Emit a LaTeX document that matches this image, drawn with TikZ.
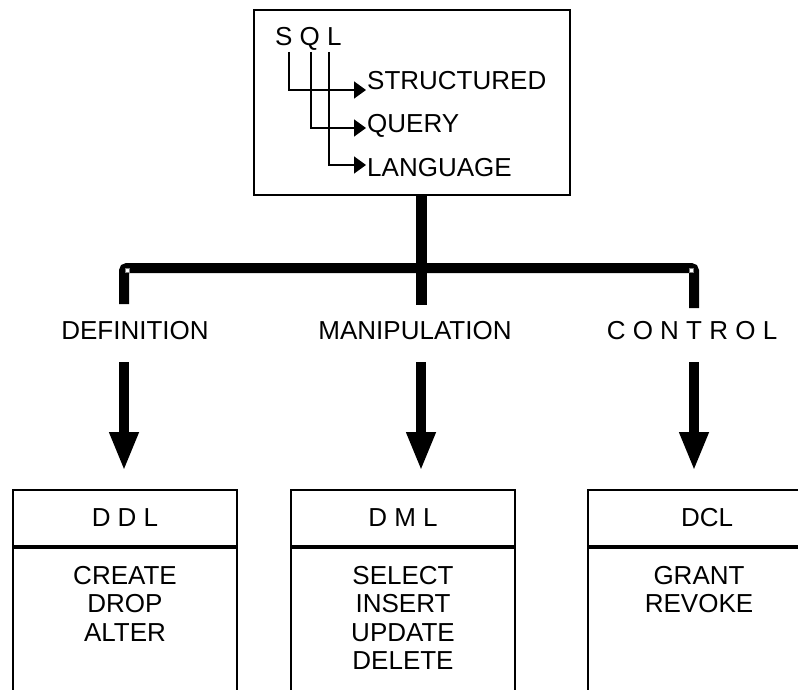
\documentclass[tikz,border=0pt]{standalone}
\usepackage{fontspec}
\setmainfont{Liberation Sans}
\usetikzlibrary{arrows.meta}
\begin{document}
\begin{tikzpicture}[x=1pt,y=-1pt,
  every node/.style={font=\fontsize{26}{28.5}\selectfont, inner sep=0pt},
  frame/.style={draw, line width=2pt},
  thinarrow/.style={line width=1.6pt, -{Triangle[length=12pt,width=17pt]}},
  bus/.style={line width=10pt, rounded corners=3pt},
  bigarrow/.style={line width=10pt, -{Triangle[length=39pt,width=27pt]}},
  notch/.style={fill=white, draw=gray, line width=0.4pt}
]
\path[use as bounding box, clip] (0,0) rectangle (798,690);

% top box
\node[frame, minimum width=316pt, minimum height=185pt] (sqlbox) at (412,102.5) {};
\node[anchor=base west] (sql) at (275,46) {S Q L};
\node[anchor=base west] (structured) at (367,90) {STRUCTURED};
\node[anchor=base west] (query) at (367,133) {QUERY};
\node[anchor=base west] (language) at (367,177) {LANGUAGE};
\coordinate (cS) at (289,52);
\coordinate (cQ) at (311,52);
\coordinate (cL) at (329,52);
\draw[thinarrow] (cS) |- ([xshift=-1pt]structured.base west);
\draw[thinarrow] (cQ) |- ([xshift=-1pt,yshift=5pt]query.base west);
\draw[thinarrow] (cL) |- ([xshift=-1pt,yshift=12pt]language.base west);

% bus
\coordinate (stubtop) at (421.5,195);
\coordinate (stubbot) at (421.5,305);
\coordinate (busL) at (124,304);
\coordinate (busR) at (694,308);
\draw[bus] (busL) -- (124,268) -- (694,268) -- (busR);
\draw[line width=11pt] (stubtop) -- (stubbot);
\path[notch] (125,268.5) rectangle (129,272.5);
\path[notch] (689,268.5) rectangle (693,272.5);

% labels
\node[anchor=base] (def) at (135,339) {DEFINITION};
\node[anchor=base] (man) at (415,339) {MANIPULATION};
\node[anchor=base] (ctl) at (692,339) {C O N T R O L};

% bottom boxes
\node[frame, minimum width=224pt, minimum height=56pt, anchor=north] (ddlh) at (125,489) {};
\node[frame, minimum width=224pt, minimum height=160pt, anchor=north] (ddlb) at (ddlh.south) {};
\node[frame, minimum width=224pt, minimum height=56pt, anchor=north] (dmlh) at (403,489) {};
\node[frame, minimum width=224pt, minimum height=160pt, anchor=north] (dmlb) at (dmlh.south) {};
\node[frame, minimum width=224pt, minimum height=56pt, anchor=north] (dclh) at (700,489) {};
\node[frame, minimum width=224pt, minimum height=160pt, anchor=north] (dclb) at (dclh.south) {};

\node[anchor=base] (ddlt) at (125,526) {D D L};
\node[anchor=base] (dmlt) at (403,526) {D M L};
\node[anchor=base] (dclt) at (707,526) {DCL};

\node[anchor=north, align=center] (ddlc) at (125,566) {CREATE\\DROP\\ALTER};
\node[anchor=north, align=center] (dmlc) at (403,566) {SELECT\\INSERT\\UPDATE\\DELETE};
\node[anchor=north, align=center] (dclc) at (699,566) {GRANT\\REVOKE};

% arrows
\coordinate (aD) at (124,362);
\coordinate (aM) at (421,362);
\coordinate (aC) at (694,362);
\draw[bigarrow, shorten >=18pt] (aD) -- (aD |- ddlh.north);
\draw[bigarrow, shorten >=18pt] (aM) -- (aM |- dmlh.north);
\draw[bigarrow, shorten >=18pt] (aC) -- (aC |- dclh.north);
\end{tikzpicture}
\end{document}
